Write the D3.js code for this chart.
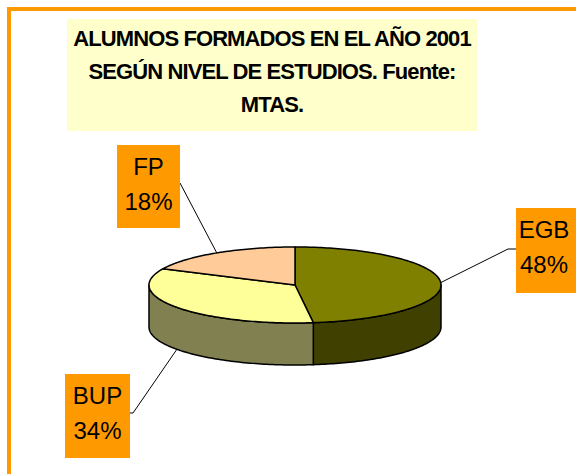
<!DOCTYPE html>
<html>
<head>
<meta charset="utf-8">
<script src="https://cdn.jsdelivr.net/npm/d3@7"></script>
<style>
  body { margin: 0; background: #fff; }
  svg { display: block; }
</style>
</head>
<body>
<svg id="chart" width="576" height="474"></svg>
<script>
// data
var categories = ["EGB", "BUP", "FP"];
var values = [48, 34, 18];
var titleLines = ["ALUMNOS FORMADOS EN EL AÑO 2001", "SEGÚN NIVEL DE ESTUDIOS. Fuente:", "MTAS."];

var topColors = ["#808000", "#FFFF99", "#FFCC99"];
var sideColors = ["#404000", "#808050", "#806650"];

// label boxes (x, y, w, h) and leader elbow points
var labelBoxes = [
    {x: 516, y: 208, w: 66, h: 85, elbow: [508, 249], end: [516, 249]},
    {x: 65, y: 374, w: 65, h: 84, elbow: [133, 413], end: [130, 413]},
    {x: 117, y: 145, w: 63, h: 83, elbow: null, end: [180, 183]}
];

var svg = d3.select("#chart");

// chart frame
svg.append("rect")
    .attr("x", 9).attr("y", 9)
    .attr("width", 600).attr("height", 500)
    .attr("fill", "#fff")
    .attr("stroke", "#FF9900")
    .attr("stroke-width", 4);

// title
svg.append("rect")
    .attr("x", 67).attr("y", 19)
    .attr("width", 410).attr("height", 112)
    .attr("fill", "#FFFFCC");

svg.append("g").selectAll("text")
    .data(titleLines)
    .enter().append("text")
    .attr("x", 272)
    .attr("y", function(d, i) { return 46 + i * 33; })
    .attr("text-anchor", "middle")
    .attr("font-family", "Liberation Sans, Arial, sans-serif")
    .attr("font-weight", "bold")
    .attr("font-size", 22)
    .attr("letter-spacing", -0.9)
    .text(function(d) { return d; });

// 3d pie
var cx = 295, cy = 285, rx = 146, ry = 38, depth = 42;

var pie = d3.pie().sort(null).value(function(d) { return d; });
var arcs = pie(values);

function pt(a, dy) {
    return [cx + rx * Math.sin(a), cy - ry * Math.cos(a) + (dy || 0)];
}

function rim(a0, a1, dy) {
    var n = Math.max(2, Math.ceil((a1 - a0) / 0.02));
    return d3.range(n + 1).map(function(i) { return pt(a0 + (a1 - a0) * i / n, dy); });
}

var line = d3.line();

// side walls (front half only)
var sides = svg.append("g");
arcs.forEach(function(d, i) {
    var a0 = Math.max(d.startAngle, Math.PI / 2);
    var a1 = Math.min(d.endAngle, Math.PI * 1.5);
    if (a1 <= a0) return;
    var pts = rim(a0, a1, 0).concat(rim(a0, a1, depth).reverse());
    sides.append("path")
        .attr("d", line(pts) + "Z")
        .attr("fill", sideColors[i])
        .attr("stroke", "#000")
        .attr("stroke-width", 1.5)
        .attr("stroke-linejoin", "round");
});

// top faces
var tops = svg.append("g");
arcs.forEach(function(d, i) {
    var pts = [[cx, cy]].concat(rim(d.startAngle, d.endAngle, 0));
    tops.append("path")
        .attr("d", line(pts) + "Z")
        .attr("fill", topColors[i])
        .attr("stroke", "#000")
        .attr("stroke-width", 1.5)
        .attr("stroke-linejoin", "round");
});

// leader lines + labels
var labels = svg.append("g");
arcs.forEach(function(d, i) {
    var mid = (d.startAngle + d.endAngle) / 2;
    var front = Math.cos(mid) < 0;
    var p = pt(mid, front ? depth : 0);
    var b = labelBoxes[i];
    var pts = [p];
    if (b.elbow) pts.push(b.elbow);
    pts.push(b.end);
    labels.append("path")
        .attr("d", line(pts))
        .attr("fill", "none")
        .attr("stroke", "#000")
        .attr("stroke-width", 1);

    labels.append("rect")
        .attr("x", b.x).attr("y", b.y)
        .attr("width", b.w).attr("height", b.h)
        .attr("fill", "#FF9900");

    var t = labels.append("text")
        .attr("text-anchor", "middle")
        .attr("font-family", "Liberation Sans, Arial, sans-serif")
        .attr("font-size", 24);
    var pct = Math.round(d.value / d3.sum(values) * 100) + "%";
    [categories[i], pct].forEach(function(s, k) {
        t.append("tspan")
            .attr("x", i === 0 ? 544 : b.x + b.w / 2)
            .attr("y", b.y + 30 + k * 35)
            .text(s);
    });
});
</script>
</body>
</html>
